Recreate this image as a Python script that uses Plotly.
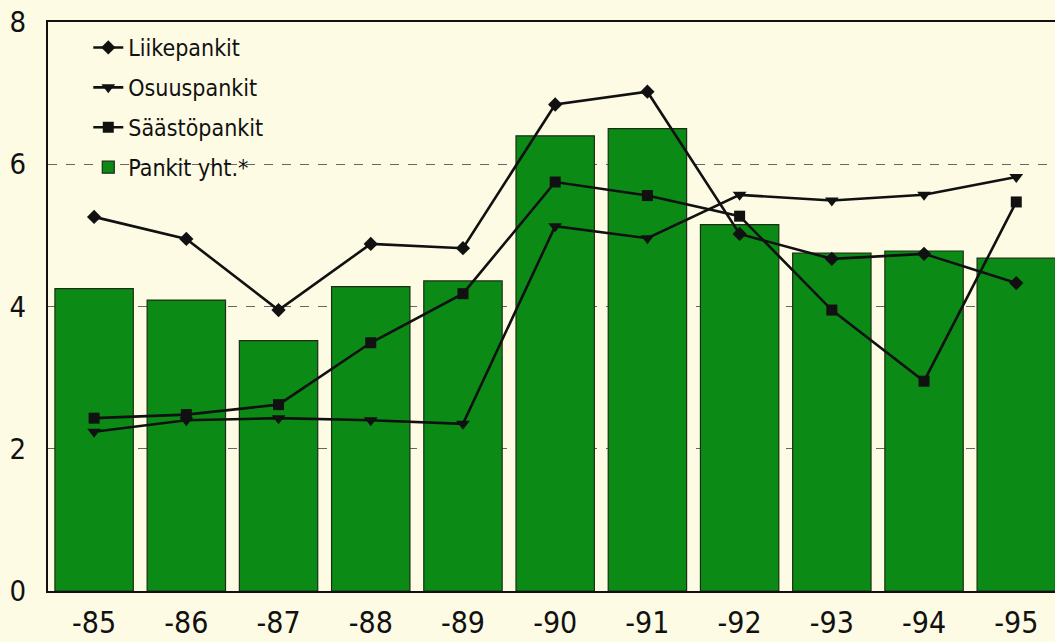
import plotly.graph_objects as go

years = ["-85", "-86", "-87", "-88", "-89", "-90", "-91", "-92", "-93", "-94", "-95"]
pankit_yht = [4.25, 4.09, 3.52, 4.28, 4.36, 6.40, 6.50, 5.15, 4.75, 4.78, 4.68]
liikepankit = [5.26, 4.95, 3.95, 4.88, 4.82, 6.84, 7.02, 5.02, 4.67, 4.74, 4.33]
osuuspankit = [2.24, 2.40, 2.43, 2.40, 2.35, 5.13, 4.96, 5.57, 5.49, 5.57, 5.82]
saastopankit = [2.43, 2.48, 2.62, 3.49, 4.18, 5.75, 5.56, 5.27, 3.95, 2.95, 5.47]
y_ticks = [0, 2, 4, 6, 8]

FONT = "DejaVu Sans Condensed, Liberation Sans Narrow, Arial Narrow, sans-serif"
BG = "#FEFBE4"

fig = go.Figure()
fig.add_trace(go.Bar(
    x=years, y=pankit_yht, name="Pankit yht.*",
    marker=dict(color="#0B8A16", line=dict(color="#1B2E14", width=1.2)),
    width=0.85, legendrank=1004, legendgroup="d",
))
line_style = dict(color="#111111", width=2.6)
fig.add_trace(go.Scatter(
    x=years, y=liikepankit, name="Liikepankit", mode="lines+markers",
    line=line_style, marker=dict(symbol="diamond", size=11, color="#111111"),
    legendrank=1001, legendgroup="a",
))
fig.add_trace(go.Scatter(
    x=years, y=osuuspankit, name="Osuuspankit", mode="lines+markers",
    line=line_style, marker=dict(symbol="triangle-down", size=12, color="#111111"),
    legendrank=1002, legendgroup="b",
))
fig.add_trace(go.Scatter(
    x=years, y=saastopankit, name="Säästöpankit", mode="lines+markers",
    line=line_style, marker=dict(symbol="square", size=11, color="#111111"),
    legendrank=1003, legendgroup="c",
))

fig.update_layout(
    width=1055, height=642,
    paper_bgcolor=BG, plot_bgcolor=BG,
    margin=dict(l=48, r=0, t=22, b=51),
    font=dict(family=FONT, color="#111111"),
    showlegend=True,
    legend=dict(
        x=0.040, y=0.993, xanchor="left", yanchor="top",
        bgcolor="rgba(0,0,0,0)", font=dict(size=23, family=FONT),
        tracegroupgap=7, traceorder="grouped", itemwidth=30,
    ),
    bargap=0.15,
)
fig.update_xaxes(
    type="category", categoryorder="array", categoryarray=years,
    range=[-0.5, 10.42], automargin=False,
    showline=True, linecolor="#111111", linewidth=2, mirror=True,
    showgrid=False, ticks="", tickfont=dict(size=30, family=FONT),
    ticklabelstandoff=4,
)
fig.update_yaxes(
    range=[0, 8], tickvals=y_ticks, ticktext=[str(v) for v in y_ticks],
    automargin=False,
    showline=True, linecolor="#111111", linewidth=2,
    showgrid=True, gridcolor="#666666", gridwidth=1, griddash="dash",
    zeroline=False, ticks="inside", ticklen=5, tickcolor="#666666",
    tickfont=dict(size=29, family=FONT), ticklabelstandoff=14,
)
fig.write_html(
    "out.html",
    config={"displayModeBar": False},
    post_script="document.body.style.margin='0';document.body.style.background='%s';" % BG,
)
